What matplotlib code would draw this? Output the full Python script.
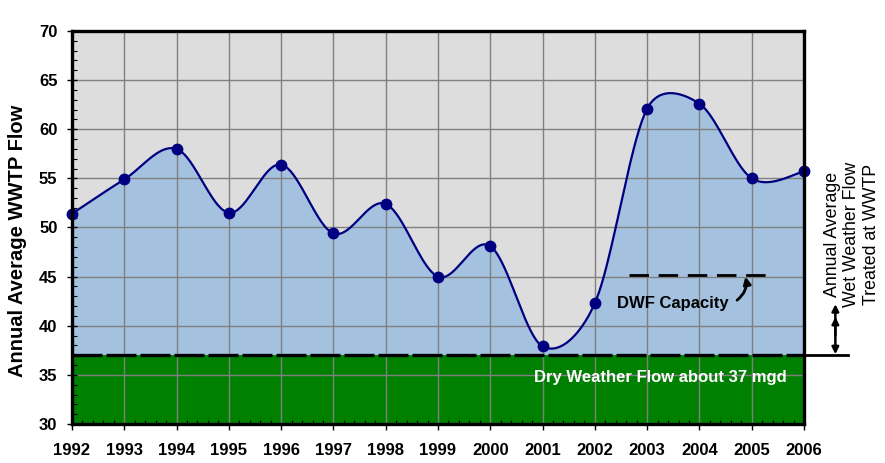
import numpy as np
import matplotlib
matplotlib.use("Agg")
import matplotlib.pyplot as plt
from matplotlib.ticker import MultipleLocator

# --- data ---
years = [1992, 1993, 1994, 1995, 1996, 1997, 1998, 1999,
         2000, 2001, 2002, 2003, 2004, 2005, 2006]
flow = [51.4, 54.9, 58.0, 51.5, 56.4, 49.4, 52.4, 45.0,
        48.1, 37.9, 42.3, 62.1, 62.6, 55.0, 55.7]
dry_weather = 37.0
dwf_capacity = 45.2
dwf_span = [2002.65, 2005.4]

NAVY = "#000080"
BLUE_FILL = "#A4C2E0"
GREEN = "#008000"
BG = "#DDDDDD"
GRID = "#808080"

plt.rcParams['font.family'] = ['Liberation Sans', 'DejaVu Sans']


def excel_smooth(x, y, sx=52.1, sy=9.86, n=40):
    """Smoothed line like Excel draws it (Bezier with limited control arms).
    sx, sy: pixels per data unit, the arm limit is worked out on screen."""
    p = np.column_stack([np.asarray(x, float) * sx, np.asarray(y, float) * sy])
    t = np.linspace(0, 1, n)[:, None]
    out = []
    for i in range(len(p) - 1):
        p1, p2 = p[i], p[i + 1]
        p0 = p[i - 1] if i > 0 else p1
        p3 = p[i + 2] if i + 2 < len(p) else p2
        d12 = np.hypot(*(p2 - p1))
        d02 = np.hypot(*(p2 - p0))
        d13 = np.hypot(*(p3 - p1))
        f0 = 1 / 6 if d02 == 0 else min(1 / 6, d12 / (2 * d02))
        f3 = 1 / 6 if d13 == 0 else min(1 / 6, d12 / (2 * d13))
        b1 = p1 + (p2 - p0) * f0
        b2 = p2 - (p3 - p1) * f3
        seg = ((1 - t) ** 3) * p1 + 3 * ((1 - t) ** 2) * t * b1 \
            + 3 * (1 - t) * t ** 2 * b2 + t ** 3 * p2
        out.append(seg if i == 0 else seg[1:])
    out = np.vstack(out)
    return out[:, 0] / sx, out[:, 1] / sy


fig = plt.figure(figsize=(8.85, 4.63), dpi=100)
ax = fig.add_axes([72 / 885, 39 / 463, 732 / 885, 393 / 463])
ax.set_facecolor(BG)

xs, ys = excel_smooth(years, flow)

# fills
ax.fill_between(xs, dry_weather, ys, color=BLUE_FILL, zorder=1, lw=0)
ax.axhspan(30, dry_weather, color=GREEN, zorder=1, lw=0)

# grid on top of the fills
ax.set_axisbelow(False)
ax.grid(True, which='major', color=GRID, lw=1.0)

# dry weather dashed line
ax.plot([1992, 2006], [dry_weather, dry_weather], color='black', lw=2.4,
        dashes=(9, 1.2), zorder=3, solid_capstyle='butt')

# DWF capacity line
ax.plot(dwf_span, [dwf_capacity, dwf_capacity], color='black', lw=2.0,
        dashes=(7, 3.5), zorder=3)

# main series
ax.plot(xs, ys, color=NAVY, lw=1.6, zorder=4)
ax.plot(years, flow, 'o', color=NAVY, ms=7.5, zorder=5, clip_on=False)

ax.set_xlim(1992, 2006)
ax.set_ylim(30, 70)
ax.xaxis.set_major_locator(MultipleLocator(1))
ax.xaxis.set_minor_locator(MultipleLocator(0.2))
ax.yaxis.set_major_locator(MultipleLocator(5))
ax.yaxis.set_minor_locator(MultipleLocator(1))

for s in ax.spines.values():
    s.set_linewidth(2.4)
    s.set_color('black')
    s.set_zorder(6)

ax.tick_params(axis='x', which='major', direction='out', length=4, width=1,
               pad=10, labelsize=12)
ax.tick_params(axis='x', which='minor', direction='in', length=3, width=0.8)
ax.tick_params(axis='y', which='major', direction='inout', length=7, width=1,
               pad=7, labelsize=12)
ax.tick_params(axis='y', which='minor', direction='in', length=3.5, width=0.8)
for lab in ax.get_xticklabels() + ax.get_yticklabels():
    lab.set_fontweight('bold')

ax.set_ylabel("Annual Average WWTP Flow", fontsize=14.5, fontweight='bold')
ax.yaxis.set_label_coords((27 - 72) / 732, (424 - 241) / 393)

# annotations
ax.text(2003.25, 34.7, "Dry Weather Flow about 37 mgd", color='white',
        fontsize=12, fontweight='bold', ha='center', va='center', zorder=7)
ax.text(2003.5, 42.3, "DWF Capacity", color='black', fontsize=12,
        fontweight='bold', ha='center', va='center', zorder=7)
ax.annotate("", xy=(2004.88, 45.0), xytext=(2004.72, 42.6),
            arrowprops=dict(arrowstyle='-|>', color='black', lw=2.0,
                            mutation_scale=11, shrinkA=0, shrinkB=0,
                            connectionstyle='arc3,rad=0.3'), zorder=7)

# right-hand bracket
ax.plot([2006, 2006.84], [dry_weather, dry_weather], color='black', lw=2.0,
        clip_on=False, zorder=7)
ax.annotate("", xy=(2006.6, 42.2), xytext=(2006.6, 37.1),
            arrowprops=dict(arrowstyle='<|-|>', color='black', lw=1.8,
                            mutation_scale=10, shrinkA=0, shrinkB=0),
            annotation_clip=False, zorder=7)
ax.annotate("", xy=(2006.6, 40.9), xytext=(2006.6, 39.0),
            arrowprops=dict(arrowstyle='-|>', color='black', lw=1.8,
                            mutation_scale=10, shrinkA=0, shrinkB=0),
            annotation_clip=False, zorder=7)
fig.text(852 / 885, 1 - 234 / 463,
         "Annual Average\nWet Weather Flow\nTreated at WWTP",
         rotation=90, ha='center', va='center', fontsize=12.8,
         multialignment='center', linespacing=1.22)

fig.savefig("out.png", dpi=100)
